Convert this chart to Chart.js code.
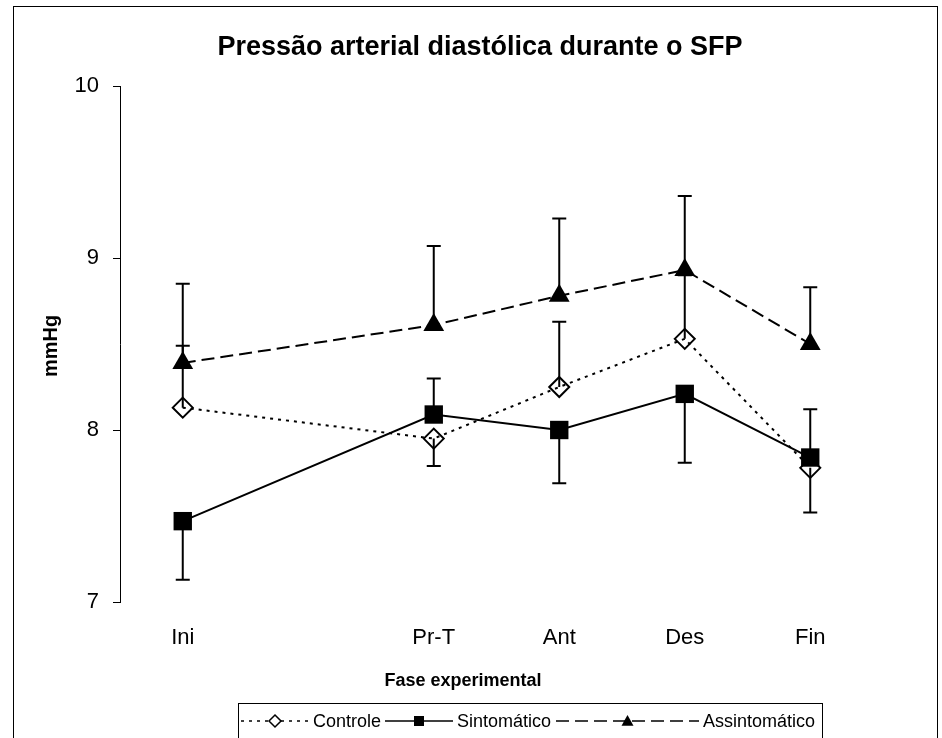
<!DOCTYPE html>
<html>
<head>
<meta charset="utf-8">
<script src="https://cdn.jsdelivr.net/npm/chart.js@4.4.0/dist/chart.umd.min.js"></script>
<style>
  html, body { margin: 0; padding: 0; background: #fff; }
  #wrap { width: 942px; height: 738px; }
</style>
</head>
<body>
<div id="wrap"><canvas id="chart" width="942" height="738"></canvas></div>
<script>
const phases = ['Ini', '', 'Pr-T', 'Ant', 'Des', 'Fin'];
const controle = [8.13, null, 7.95, 8.25, 8.53, 7.78];
const sintomatico = [7.47, null, 8.09, 8.00, 8.21, 7.84];
const assintomatico = [8.39, null, 8.61, 8.78, 8.93, 8.50];
// one-sided error bars: positive goes up, negative goes down
const controleErr = [0.36, null, -0.16, 0.38, 0.37, -0.26];
const sintomaticoErr = [-0.34, null, 0.21, -0.31, -0.40, 0.28];
const assintomaticoErr = [0.46, null, 0.46, 0.45, 0.43, 0.33];
const yTicks = [7, 8, 9, 10];

const FONT = "'Liberation Sans', Arial, sans-serif";

const errorBars = {
    id: 'errorBars',
    beforeDatasetsDraw(chart) {
        const ctx = chart.ctx;
        const y = chart.scales.y;
        chart.data.datasets.forEach((ds, i) => {
            const meta = chart.getDatasetMeta(i);
            ds.errors.forEach((e, j) => {
                if (e == null || ds.data[j] == null) return;
                const px = meta.data[j].x;
                const y0 = y.getPixelForValue(ds.data[j]);
                const y1 = y.getPixelForValue(ds.data[j] + e);
                ctx.save();
                ctx.strokeStyle = '#000';
                ctx.lineWidth = 2;
                ctx.beginPath();
                ctx.moveTo(px, y0);
                ctx.lineTo(px, y1);
                ctx.moveTo(px - 7, y1);
                ctx.lineTo(px + 7, y1);
                ctx.stroke();
                ctx.restore();
            });
        });
    }
};

function marker(ctx, style, x, y, r) {
    ctx.beginPath();
    if (style === 'rectRot') {
        ctx.moveTo(x, y - r); ctx.lineTo(x + r, y); ctx.lineTo(x, y + r); ctx.lineTo(x - r, y); ctx.closePath();
        ctx.lineWidth = 1.5; ctx.stroke();
    } else if (style === 'rect') {
        ctx.rect(x - r, y - r, 2 * r, 2 * r); ctx.fill();
    } else {
        ctx.moveTo(x, y - r); ctx.lineTo(x + r, y + r * 0.8); ctx.lineTo(x - r, y + r * 0.8); ctx.closePath(); ctx.fill();
    }
}

// legend sample spans [start, end] in px, then text follows
const legendSpans = [[241, 309], [385, 453], [556, 699]];

const decor = {
    id: 'decor',
    afterDraw(chart) {
        const ctx = chart.ctx;
        ctx.save();
        // outer frame
        ctx.strokeStyle = '#000';
        ctx.lineWidth = 1;
        ctx.strokeRect(13.5, 6.5, 924, 760);
        ctx.fillStyle = '#000';
        ctx.textAlign = 'center';
        ctx.textBaseline = 'middle';
        ctx.font = 'bold 27px ' + FONT;
        ctx.fillText('Pressão arterial diastólica durante o SFP', 480, 48);
        ctx.font = 'bold 18px ' + FONT;
        ctx.fillText('Fase experimental', 463, 681);
        ctx.save();
        ctx.translate(51, 346);
        ctx.rotate(-Math.PI / 2);
        ctx.font = 'bold 20px ' + FONT;
        ctx.fillText('mmHg', 0, 0);
        ctx.restore();

        // legend
        const bx = 238, by = 703, bw = 584;
        ctx.strokeRect(bx + 0.5, by + 0.5, bw, 60);
        ctx.font = '18px ' + FONT;
        ctx.textAlign = 'left';
        const ly = by + 18;
        chart.data.datasets.forEach((d, i) => {
            const [s, e] = legendSpans[i];
            ctx.save();
            ctx.strokeStyle = '#000';
            ctx.lineWidth = 1.5;
            ctx.setLineDash(d.borderDash || []);
            ctx.beginPath();
            ctx.moveTo(s, ly);
            ctx.lineTo(e, ly);
            ctx.stroke();
            ctx.setLineDash([]);
            ctx.fillStyle = '#000';
            const mx = (s + e) / 2;
            if (d.pointStyle === 'rectRot') {
                ctx.fillStyle = '#fff';
                ctx.fillRect(mx - 6, ly - 6, 12, 12);
            }
            marker(ctx, d.pointStyle, mx, ly, d.pointStyle === 'rect' ? 5 : 6);
            ctx.restore();
            ctx.fillText(d.label, e + 4, ly + 1);
        });
        ctx.restore();
    }
};

new Chart(document.getElementById('chart'), {
    type: 'line',
    data: {
        labels: phases,
        datasets: [
            {
                label: 'Controle', data: controle, errors: controleErr,
                borderColor: '#000', borderWidth: 2, borderDash: [3, 5],
                pointStyle: 'rectRot', pointRadius: 10,
                pointBackgroundColor: 'rgba(0,0,0,0)', pointBorderColor: '#000', pointBorderWidth: 2,
                spanGaps: true
            },
            {
                label: 'Sintomático', data: sintomatico, errors: sintomaticoErr,
                borderColor: '#000', borderWidth: 2,
                pointStyle: 'rect', pointRadius: 13,
                pointBackgroundColor: '#000', pointBorderColor: '#000', pointBorderWidth: 0,
                spanGaps: true
            },
            {
                label: 'Assintomático', data: assintomatico, errors: assintomaticoErr,
                borderColor: '#000', borderWidth: 2, borderDash: [13, 6],
                pointStyle: 'triangle', pointRadius: 12,
                pointBackgroundColor: '#000', pointBorderColor: '#000', pointBorderWidth: 0,
                spanGaps: true
            }
        ]
    },
    options: {
        responsive: false,
        animation: false,
        devicePixelRatio: 1,
        layout: { padding: { top: 86, right: 69, bottom: 0, left: 0 } },
        plugins: {
            legend: { display: false },
            title: { display: false },
            tooltip: { enabled: false }
        },
        scales: {
            x: {
                offset: true,
                grid: { display: false, drawTicks: false },
                border: { display: false },
                ticks: { color: '#000', font: { family: FONT, size: 22 }, padding: 23, autoSkip: false, maxRotation: 0 },
                afterFit(s) { s.height = 136; }
            },
            y: {
                min: 7, max: 10,
                afterBuildTicks(s) { s.ticks = yTicks.map(v => ({ value: v })); },
                grid: { drawOnChartArea: false, drawTicks: true, tickLength: 7, color: '#000', lineWidth: 1 },
                border: { display: true, color: '#000', width: 1 },
                ticks: { color: '#000', font: { family: FONT, size: 22 }, padding: 14 },
                afterFit(s) { s.width = 120; }
            }
        }
    },
    plugins: [errorBars, decor]
});
</script>
</body>
</html>
